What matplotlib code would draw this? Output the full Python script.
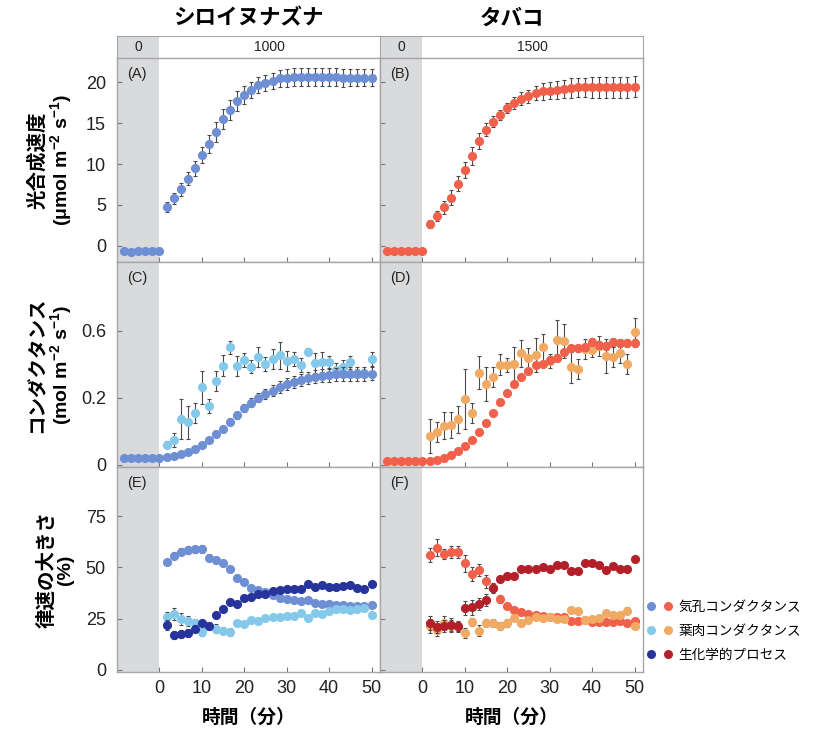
import matplotlib
matplotlib.use("Agg")
import matplotlib.pyplot as plt
from matplotlib.lines import Line2D
from matplotlib.legend_handler import HandlerTuple

plt.rcParams['font.family'] = ['Liberation Sans', 'Noto Sans CJK JP', 'DejaVu Sans']
plt.rcParams['mathtext.fontset'] = 'custom'
plt.rcParams['mathtext.rm'] = 'Liberation Sans'
plt.rcParams['mathtext.it'] = 'Liberation Sans:italic'
plt.rcParams['mathtext.bf'] = 'Liberation Sans:bold'

# ---------------- data ----------------
species = ["シロイヌナズナ", "タバコ"]
light_levels = ["1000", "1500"]
panel_letters = ["(A)", "(B)", "(C)", "(D)", "(E)", "(F)"]
legend_labels = ["気孔コンダクタンス", "葉肉コンダクタンス", "生化学的プロセス"]
xticks = [0, 10, 20, 30, 40, 50]
yticks_A = [0, 5, 10, 15, 20]
yticks_C = [0, 0.2, 0.4]
yticklabels_C = ["0", "0.2", "0.6"]
yticks_E = [0, 25, 50, 75]

t_pre = [-8.33, -6.67, -5.0, -3.33, -1.67, 0.0]
t_post = [1.67, 3.33, 5.0, 6.67, 8.33, 10.0, 11.67, 13.33, 15.0, 16.67,
          18.33, 20.0, 21.67, 23.33, 25.0, 26.67, 28.33, 30.0, 31.67, 33.33,
          35.0, 36.67, 38.33, 40.0, 41.67, 43.33, 45.0, 46.67, 48.33, 50.0]

# (A) Arabidopsis photosynthesis
A_pre = [-0.7, -0.8, -0.7, -0.7, -0.7, -0.7]
A_post = [4.7, 5.8, 6.9, 8.2, 9.5, 11.1, 12.5, 13.9, 15.5, 16.6,
          17.7, 18.5, 19.1, 19.7, 19.9, 20.2, 20.5, 20.6, 20.7, 20.7,
          20.7, 20.7, 20.7, 20.7, 20.7, 20.6, 20.6, 20.6, 20.6, 20.6]
A_err = [0.6, 0.7, 0.8, 0.8, 0.9, 1.0, 1.1, 1.2, 1.2, 1.2,
         1.2, 1.1, 1.0, 1.0, 1.0, 1.0, 1.0, 1.1, 1.1, 1.1,
         1.1, 1.1, 1.1, 1.1, 1.1, 1.1, 1.0, 1.0, 1.0, 1.0]
# (B) Tobacco photosynthesis
B_pre = [-0.7, -0.6, -0.7, -0.7, -0.7, -0.7]
B_post = [2.7, 3.6, 4.7, 5.9, 7.6, 9.3, 11.0, 12.8, 14.2, 15.2,
          16.0, 16.9, 17.5, 18.0, 18.3, 18.7, 18.9, 19.0, 19.1, 19.2,
          19.3, 19.4, 19.4, 19.4, 19.4, 19.4, 19.4, 19.4, 19.4, 19.5]
B_err = [0.5, 0.6, 0.8, 0.9, 0.9, 1.0, 1.1, 1.0, 0.8, 0.7,
         0.6, 0.6, 0.7, 0.8, 0.8, 0.9, 1.0, 1.0, 1.1, 1.1,
         1.2, 1.2, 1.2, 1.3, 1.3, 1.3, 1.3, 1.3, 1.3, 1.3]

# (C) Arabidopsis conductances
C_st_pre = [0.021, 0.021, 0.021, 0.021, 0.021, 0.021]
C_st = [0.023, 0.028, 0.033, 0.040, 0.049, 0.060, 0.073, 0.092, 0.108, 0.129,
        0.148, 0.169, 0.185, 0.200, 0.210, 0.221, 0.232, 0.241, 0.248, 0.253,
        0.259, 0.263, 0.266, 0.268, 0.270, 0.271, 0.271, 0.271, 0.271, 0.272]
C_st_err = [0.003, 0.003, 0.004, 0.004, 0.005, 0.006, 0.007, 0.008, 0.009, 0.010,
            0.011, 0.012, 0.013, 0.014, 0.015, 0.016, 0.017, 0.018, 0.018, 0.019,
            0.019, 0.020, 0.020, 0.020, 0.020, 0.020, 0.020, 0.020, 0.020, 0.020]
C_me = [0.060, 0.074, 0.137, 0.127, 0.155, 0.231, 0.176, 0.251, 0.296, 0.350,
        0.294, 0.313, 0.293, 0.322, 0.300, 0.315, 0.327, 0.310, 0.315, 0.298,
        0.337, 0.303, 0.307, 0.305, 0.283, 0.291, 0.305, 0.275, 0.275, 0.315]
C_me_err = [0.01, 0.02, 0.06, 0.05, 0.03, 0.05, 0.02, 0.03, 0.03, 0.02,
            0.03, 0.02, 0.02, 0.03, 0.02, 0.03, 0.04, 0.03, 0.02, 0.02,
            0.01, 0.03, 0.03, 0.02, 0.02, 0.02, 0.02, 0.01, 0.01, 0.02]

# (D) Tobacco conductances
D_st_pre = [0.012, 0.012, 0.012, 0.012, 0.012, 0.012]
D_st = [0.012, 0.015, 0.021, 0.030, 0.043, 0.057, 0.074, 0.097, 0.124, 0.156,
        0.187, 0.213, 0.240, 0.263, 0.280, 0.298, 0.300, 0.313, 0.319, 0.335,
        0.347, 0.347, 0.350, 0.367, 0.357, 0.354, 0.367, 0.362, 0.364, 0.364]
D_st_err = [0.002, 0.002, 0.003, 0.004, 0.005, 0.006, 0.007, 0.008, 0.008, 0.008,
            0.008, 0.008, 0.008, 0.008, 0.008, 0.009, 0.009, 0.010, 0.010, 0.010,
            0.010, 0.010, 0.011, 0.011, 0.011, 0.011, 0.012, 0.012, 0.012, 0.012]
D_me = [0.086, 0.097, 0.117, 0.119, 0.136, 0.196, 0.154, 0.275, 0.241, 0.261,
        0.299, 0.297, 0.300, 0.332, 0.318, 0.327, 0.350, 0.310, 0.372, 0.369,
        0.293, 0.286, 0.344, 0.342, 0.354, 0.324, 0.322, 0.332, 0.300, 0.397]
D_me_err = [0.05, 0.03, 0.04, 0.04, 0.04, 0.09, 0.03, 0.05, 0.05, 0.03,
            0.03, 0.02, 0.05, 0.04, 0.03, 0.05, 0.04, 0.02, 0.06, 0.05,
            0.05, 0.03, 0.03, 0.02, 0.03, 0.05, 0.03, 0.03, 0.03, 0.04]

# (E) Arabidopsis limitations (%)
E_st = [52.5, 55.8, 57.7, 58.5, 58.8, 59.0, 54.8, 53.7, 52.0, 49.1,
        44.8, 43.1, 39.9, 39.1, 37.8, 36.7, 35.0, 34.6, 34.2, 33.7,
        33.9, 32.6, 32.3, 32.0, 31.8, 31.5, 31.3, 31.3, 31.3, 31.5]
E_st_err = [1.0, 1.5, 1.8, 1.8, 1.8, 1.8, 1.8, 1.6, 1.5, 1.4,
            1.2, 1.2, 1.0, 1.0, 1.0, 0.9, 0.9, 0.9, 0.9, 0.9,
            0.9, 0.9, 0.9, 0.9, 0.9, 0.9, 0.9, 0.9, 0.9, 0.9]
E_me = [25.7, 27.4, 24.9, 24.0, 22.9, 18.4, 21.3, 20.2, 19.2, 18.5,
        22.9, 22.6, 24.2, 23.7, 25.3, 25.7, 25.7, 26.2, 26.5, 27.8,
        25.3, 27.8, 27.4, 28.6, 29.9, 29.9, 29.1, 29.9, 30.3, 27.0]
E_me_err = [2.5, 3.0, 3.0, 2.5, 2.0, 2.0, 2.0, 2.0, 1.8, 1.8,
            1.5, 1.2, 1.0, 1.0, 1.0, 1.0, 1.5, 1.2, 1.0, 1.0,
            1.5, 1.0, 1.0, 1.0, 1.0, 1.0, 1.0, 1.0, 1.0, 1.0]
E_bio = [22.1, 17.2, 17.6, 18.0, 20.2, 22.9, 21.6, 26.6, 29.9, 33.0,
         32.1, 35.0, 35.5, 37.2, 37.0, 38.3, 39.1, 39.4, 39.4, 39.4,
         41.8, 40.7, 41.2, 40.7, 40.3, 41.0, 41.3, 39.9, 39.6, 42.0]
E_bio_err = [2.5, 2.0, 2.0, 2.0, 1.8, 1.5, 1.5, 1.0, 1.0, 1.0,
             1.0, 1.0, 1.0, 1.0, 1.0, 1.0, 1.0, 1.0, 1.0, 1.0,
             1.0, 1.0, 1.0, 1.0, 1.0, 1.0, 1.0, 1.0, 1.0, 1.0]

# (F) Tobacco limitations (%)
F_st = [56.1, 59.7, 56.4, 57.7, 57.7, 52.0, 46.9, 48.8, 43.2, 39.9,
        34.6, 31.3, 29.4, 28.1, 27.3, 26.7, 26.5, 25.8, 25.8, 25.8,
        23.7, 23.7, 24.2, 23.4, 23.4, 23.4, 23.4, 24.1, 22.9, 23.7]
F_st_err = [3.5, 4.0, 2.5, 3.0, 3.0, 4.0, 3.5, 3.0, 3.0, 2.5,
            2.0, 1.5, 1.5, 1.2, 1.2, 1.0, 1.0, 1.0, 1.0, 1.0,
            1.0, 1.0, 1.0, 1.0, 1.0, 1.0, 1.0, 1.0, 1.0, 1.0]
F_me = [21.3, 19.7, 22.9, 21.3, 21.0, 18.1, 23.3, 19.2, 22.9, 22.9,
        21.6, 22.9, 25.3, 22.9, 24.2, 25.8, 25.3, 25.8, 24.9, 24.9,
        29.4, 29.0, 24.6, 24.9, 25.3, 27.8, 27.0, 27.0, 29.0, 21.6]
F_me_err = [3.5, 3.0, 3.5, 3.0, 2.5, 2.5, 2.0, 2.5, 2.0, 2.0,
            2.0, 2.0, 1.5, 1.5, 1.5, 1.2, 1.2, 1.2, 1.2, 1.2,
            1.2, 1.2, 1.2, 1.2, 1.2, 1.5, 1.2, 1.2, 1.5, 1.2]
F_bio = [22.9, 20.8, 21.3, 22.1, 21.3, 30.2, 30.5, 32.3, 34.2, 39.9,
         44.3, 45.9, 45.6, 49.1, 49.1, 49.1, 50.1, 49.1, 51.2, 51.2,
         48.3, 48.3, 52.0, 52.0, 51.2, 48.8, 50.9, 49.1, 49.1, 54.0]
F_bio_err = [3.5, 3.0, 3.0, 3.0, 2.5, 3.5, 3.5, 3.0, 3.0, 2.0,
             1.5, 1.2, 1.2, 1.0, 1.0, 1.0, 1.0, 1.0, 1.0, 1.0,
             1.0, 1.0, 1.0, 1.0, 1.0, 1.0, 1.0, 1.0, 1.0, 1.0]

# ---------------- style ----------------
blue_st, blue_me, blue_bio = '#6f8fd4', '#85c9ea', '#26349c'
red_st, red_me, red_bio = '#f1604a', '#f0aa64', '#b4202a'
shade = '#d9dadc'
frame = '#a6a6a6'
ebar = '#4a4a4a'
MS = 6.6

fig = plt.figure(figsize=(8.13, 7.33), dpi=100)
W, H = 813, 733
def box(x0, y0, x1, y1):
    return [x0 / W, 1 - y1 / H, (x1 - x0) / W, (y1 - y0) / H]

cols = [(117, 380), (380, 643)]
rows = [(58, 262), (262, 467), (467, 672)]
XLIM = (-10, 52)

def style(ax):
    for s in ax.spines.values():
        s.set_color(frame)
        s.set_linewidth(1.0)
    ax.tick_params(direction='in', length=3.5, color='#777777', labelsize=13,
                   labelcolor='#222222', width=0.8)
    ax.tick_params(axis='y', pad=8)
    ax.tick_params(axis='x', pad=6)
    ax.set_xlim(*XLIM)
    ax.axvspan(XLIM[0], 0, color=shade, zorder=0, lw=0)

def pts(ax, x, y, err, color, z=3):
    if err is not None:
        ax.errorbar(x, y, yerr=err, fmt='none', ecolor=ebar, elinewidth=0.8,
                    capsize=1.6, capthick=0.8, zorder=z - 1)
    ax.plot(x, y, 'o', color=color, ms=MS, mec=color, mew=0, zorder=z)

# headers
for j, (x0, x1) in enumerate(cols):
    hx = fig.add_axes(box(x0, 36, x1, 58))
    hx.set_xlim(*XLIM)
    hx.set_ylim(0, 1)
    hx.axvspan(XLIM[0], 0, color=shade, lw=0)
    for s in hx.spines.values():
        s.set_color(frame)
    hx.set_xticks([])
    hx.set_yticks([])
    hx.text(-5, 0.5, "0", ha='center', va='center', fontsize=10, color='#222222')
    hx.text(26, 0.5, light_levels[j], ha='center', va='center', fontsize=10, color='#222222')
    fig.text((x0 + x1) / 2 / W, 1 - 18 / H, species[j], ha='center', va='center',
             fontsize=15.5, fontweight='bold', family=['Noto Sans CJK JP'])

axes = [[None, None], [None, None], [None, None]]
for i, (y0, y1) in enumerate(rows):
    for j, (x0, x1) in enumerate(cols):
        ax = fig.add_axes(box(x0, y0, x1, y1))
        style(ax)
        axes[i][j] = ax
        ax.set_xticks(xticks)
        if i < 2:
            ax.set_xticklabels([])
        else:
            ax.set_xlabel("時間（分）", fontsize=13.5, fontweight='bold', labelpad=8)
        ax.annotate(panel_letters[2 * i + j], xy=(0.04, 0.955), xycoords='axes fraction',
                    ha='left', va='top', fontsize=10.5, color='#222222')

# Row A/B
for j, (pre, post, err, col) in enumerate([(A_pre, A_post, A_err, blue_st),
                                            (B_pre, B_post, B_err, red_st)]):
    ax = axes[0][j]
    pts(ax, t_pre, pre, None, col)
    pts(ax, t_post, post, err, col)
    ax.set_ylim(-2, 23)
    ax.set_yticks(yticks_A)
    if j == 1:
        ax.set_yticklabels([])

# Row C/D
for j, (st_pre, st, st_err, me, me_err, cst, cme) in enumerate([
        (C_st_pre, C_st, C_st_err, C_me, C_me_err, blue_st, blue_me),
        (D_st_pre, D_st, D_st_err, D_me, D_me_err, red_st, red_me)]):
    ax = axes[1][j]
    pts(ax, t_pre, st_pre, None, cst)
    pts(ax, t_post, me, me_err, cme, z=3)
    pts(ax, t_post, st, st_err, cst, z=5)
    ax.set_ylim(-0.006, 0.604)
    ax.set_yticks(yticks_C)
    ax.set_yticklabels(yticklabels_C if j == 0 else [])

# Row E/F
for j, series in enumerate([
        [(E_st, E_st_err, blue_st), (E_me, E_me_err, blue_me), (E_bio, E_bio_err, blue_bio)],
        [(F_st, F_st_err, red_st), (F_me, F_me_err, red_me), (F_bio, F_bio_err, red_bio)]]):
    ax = axes[2][j]
    for k, (y, e, c) in enumerate(series):
        pts(ax, t_post, y, e, c, z=3 + 2 * k)
    ax.set_ylim(-1, 99)
    ax.set_yticks(yticks_E)
    if j == 1:
        ax.set_yticklabels([])

# y labels
ylabels = [
    "光合成速度\n" + r"($\mathbf{\mu}$mol m$^{\mathbf{-2}}$ s$^{\mathbf{-1}}$)",
    "コンダクタンス\n" + r"(mol m$^{\mathbf{-2}}$ s$^{\mathbf{-1}}$)",
    "律速の大きさ\n(%)",
]
for i in range(3):
    ax = axes[i][0]
    ax.set_ylabel(ylabels[i], fontsize=14, fontweight='bold', linespacing=1.05,
                  multialignment='center')
    ax.yaxis.set_label_coords(-0.165, 0.5)

# legend
handles = []
for cb, cr in [(blue_st, red_st), (blue_me, red_me), (blue_bio, red_bio)]:
    hb = Line2D([], [], marker='o', ls='none', color=cb, ms=6.5, mew=0)
    hr = Line2D([], [], marker='o', ls='none', color=cr, ms=6.5, mew=0)
    handles.append((hb, hr))
fig.legend(handles, legend_labels, handler_map={tuple: HandlerTuple(ndivide=None, pad=0.6)},
           loc='center left', bbox_to_anchor=(646 / W, 1 - 631 / H), frameon=False,
           fontsize=9.8, handlelength=2.0, handletextpad=0.4, labelspacing=0.75,
           borderaxespad=0, borderpad=0)

fig.savefig("out.png", dpi=100)
